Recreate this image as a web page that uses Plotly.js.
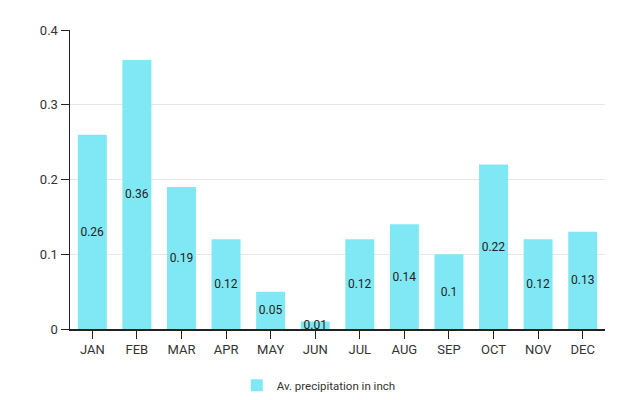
<!DOCTYPE html>
<html><head><meta charset="utf-8">
<script src="https://cdn.plot.ly/plotly-3.0.1.min.js"></script>
<style>html,body{margin:0;padding:0;background:#fff}#chart{width:640px;height:400px}</style>
</head><body><div id="chart"></div>
<script>
var months = ["JAN","FEB","MAR","APR","MAY","JUN","JUL","AUG","SEP","OCT","NOV","DEC"];
var precipitation = [0.26,0.36,0.19,0.12,0.05,0.01,0.12,0.14,0.1,0.22,0.12,0.13];
var seriesName = "Av. precipitation in inch";

Plotly.newPlot("chart", [{
  type: "bar",
  x: months,
  y: precipitation,
  name: seriesName,
  text: precipitation.map(String),
  textposition: "inside",
  insidetextanchor: "middle",
  textangle: 0,
  constraintext: "none",
  textfont: {family: "Roboto, sans-serif", size: 12, color: "#222"},
  marker: {color: "#80E8F4"},
  showlegend: true,
  hoverinfo: "none"
}], {
  width: 640, height: 400,
  margin: {l: 70, r: 35, t: 30, b: 71, autoexpand: false},
  paper_bgcolor: "#fff", plot_bgcolor: "#fff",
  font: {family: "Roboto, sans-serif", size: 13, color: "#333"},
  bargap: 0.35,
  xaxis: {showline: true, linecolor: "#222", linewidth: 1.5, ticks: "outside", ticklen: 8, tickcolor: "#222", showgrid: false},
  yaxis: {range: [0, 0.4], dtick: 0.1, showline: true, linecolor: "#222", linewidth: 1.5, ticks: "outside", ticklen: 8, tickcolor: "#222", gridcolor: "#e6e6e6", zeroline: false},
  legend: {orientation: "h", x: 0.465, xanchor: "center", y: -0.14, yanchor: "top", font: {size: 11.5}},
  showlegend: true
}, {displayModeBar: false, staticPlot: true});
</script></body></html>
